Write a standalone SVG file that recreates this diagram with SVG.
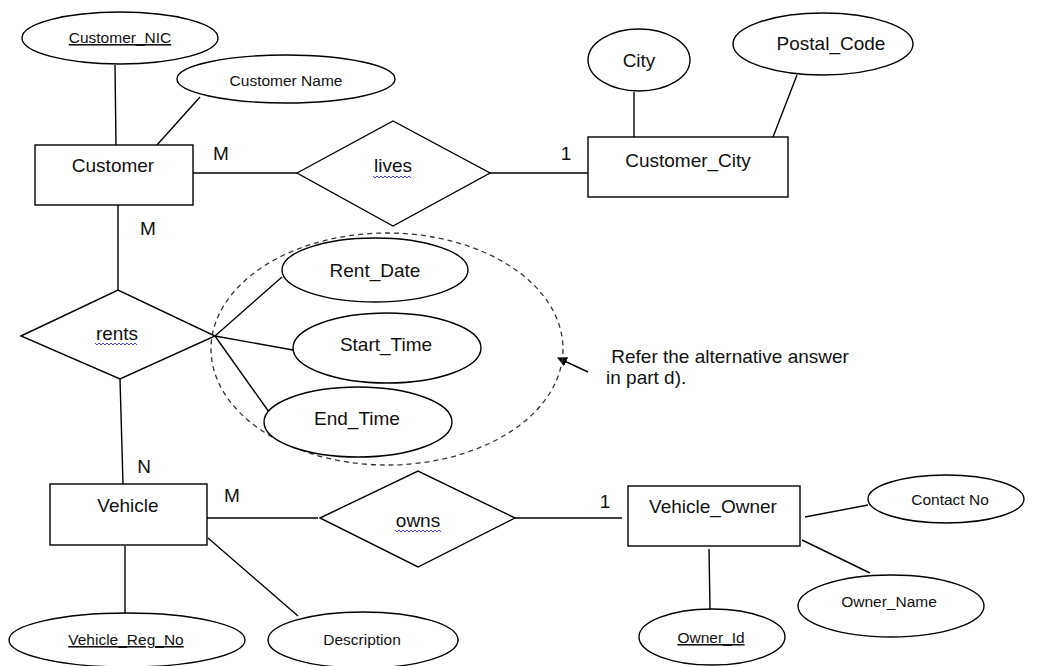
<svg xmlns="http://www.w3.org/2000/svg" width="1043" height="666" viewBox="0 0 1043 666">
<style>
.s{fill:#fff;stroke:#000;stroke-width:1.4}
.c{stroke:#000;stroke-width:1.4;fill:none}
.t{font-family:"Liberation Sans",Arial,sans-serif;font-size:19px;fill:#111;text-anchor:middle}
.a{font-family:"Liberation Sans",Arial,sans-serif;font-size:15.5px;fill:#111;text-anchor:middle}
.u{text-decoration:underline}
.w{stroke:#3b3bff;stroke-width:1;fill:none}
.n{font-family:"Liberation Sans",Arial,sans-serif;font-size:19px;fill:#111;white-space:pre}
</style>
<defs>
<marker id="ah" markerWidth="10" markerHeight="10" refX="9" refY="5" orient="auto" markerUnits="userSpaceOnUse">
<path d="M0,0 L10,5 L0,10 z" fill="#000"/>
</marker>
</defs>
<rect width="1043" height="666" fill="#fff"/>
<g id="connectors">
<line class="c" x1="115" y1="65" x2="116" y2="145"/>
<line class="c" x1="200" y1="97" x2="157" y2="145"/>
<line class="c" x1="190" y1="173" x2="297" y2="173"/>
<line class="c" x1="490" y1="173" x2="588" y2="173"/>
<line class="c" x1="634" y1="92" x2="634" y2="137"/>
<line class="c" x1="797" y1="75" x2="773" y2="137"/>
<line class="c" x1="118" y1="205" x2="118" y2="290"/>
<line class="c" x1="120" y1="379" x2="123" y2="484"/>
<line class="c" x1="215" y1="336" x2="282" y2="277"/>
<line class="c" x1="215" y1="336" x2="293" y2="350"/>
<line class="c" x1="215" y1="336" x2="269" y2="412"/>
<line class="c" x1="207" y1="518" x2="318" y2="518"/>
<line class="c" x1="515" y1="518" x2="622" y2="518"/>
<line class="c" x1="125" y1="546" x2="125" y2="613"/>
<line class="c" x1="208" y1="538" x2="298" y2="616"/>
<line class="c" x1="709" y1="549" x2="710" y2="609"/>
<line class="c" x1="805" y1="517" x2="868" y2="505"/>
<line class="c" x1="802" y1="540" x2="870" y2="573"/>
<line class="c" x1="588" y1="372" x2="558" y2="358" marker-end="url(#ah)"/>
<text class="t" x="221" y="160">M</text>
<text class="t" x="566" y="160">1</text>
<text class="t" x="148" y="235">M</text>
<text class="t" x="144" y="473">N</text>
<text class="t" x="232" y="502">M</text>
<text class="t" x="605" y="508">1</text>
</g>
<g id="group-rents-attrs">
<ellipse cx="387" cy="349" rx="176" ry="116" fill="none" stroke="#333" stroke-width="1.3" stroke-dasharray="5,4"/>
</g>
<g id="customer"><rect class="s" x="35" y="145" width="158" height="60"/><text class="t" x="113" y="172">Customer</text></g>
<g id="customer_nic"><ellipse class="s" cx="120" cy="38" rx="98" ry="26"/><text class="a u" x="120" y="43">Customer_NIC</text></g>
<g id="customer_name"><ellipse class="s" cx="286" cy="79" rx="109" ry="24"/><text class="a" x="286" y="86">Customer Name</text></g>
<g id="lives"><polygon class="s" points="297,173 393,121 490,173 393,226"/><text class="t" x="393" y="172">lives</text><path class="w" d="M373,176 l2,2 l2,-2 l2,2 l2,-2 l2,2 l2,-2 l2,2 l2,-2 l2,2 l2,-2 l2,2 l2,-2 l2,2 l2,-2 l2,2 l2,-2 l2,2 l2,-2 l2,2"/></g>
<g id="customer_city"><rect class="s" x="588" y="137" width="200" height="60"/><text class="t" x="688" y="167">Customer_City</text></g>
<g id="city"><ellipse class="s" cx="639" cy="60" rx="51" ry="31"/><text class="t" x="639" y="67">City</text></g>
<g id="postal_code"><ellipse class="s" cx="823" cy="44" rx="90" ry="31"/><text class="t" x="831" y="50">Postal_Code</text></g>
<g id="rents"><polygon class="s" points="21,336 118,290 215,336 120,379"/><text class="t" x="117" y="340">rents</text><path class="w" d="M95,343 l2,2 l2,-2 l2,2 l2,-2 l2,2 l2,-2 l2,2 l2,-2 l2,2 l2,-2 l2,2 l2,-2 l2,2 l2,-2 l2,2 l2,-2 l2,2 l2,-2 l2,2 l2,-2 l2,2"/></g>
<g id="rent_date"><ellipse class="s" cx="375" cy="270" rx="93" ry="32"/><text class="t" x="375" y="277">Rent_Date</text></g>
<g id="start_time"><ellipse class="s" cx="387" cy="348" rx="94" ry="35"/><text class="t" x="386" y="351">Start_Time</text></g>
<g id="end_time"><ellipse class="s" cx="358" cy="422" rx="94" ry="35"/><text class="t" x="357" y="425">End_Time</text></g>
<g id="note"><text class="n" x="606" y="363"> Refer the alternative answer</text><text class="n" x="606" y="384">in part d).</text></g>
<g id="vehicle"><rect class="s" x="50" y="484" width="157" height="61"/><text class="t" x="128" y="512">Vehicle</text></g>
<g id="owns"><polygon class="s" points="320,518 418,471 515,518 418,567"/><text class="t" x="418" y="527">owns</text><path class="w" d="M395,530 l2,2 l2,-2 l2,2 l2,-2 l2,2 l2,-2 l2,2 l2,-2 l2,2 l2,-2 l2,2 l2,-2 l2,2 l2,-2 l2,2 l2,-2 l2,2 l2,-2 l2,2 l2,-2 l2,2 l2,-2 l2,2"/></g>
<g id="vehicle_owner"><rect class="s" x="628" y="486" width="172" height="60"/><text class="t" x="713" y="513">Vehicle_Owner</text></g>
<g id="vehicle_reg_no"><ellipse class="s" cx="127" cy="640" rx="118" ry="27"/><text class="a u" x="126" y="645">Vehicle_Reg_No</text></g>
<g id="description"><ellipse class="s" cx="363" cy="640" rx="95" ry="28"/><text class="a" x="362" y="645">Description</text></g>
<g id="owner_id"><ellipse class="s" cx="712" cy="637" rx="73" ry="28"/><text class="a u" x="711" y="643">Owner_Id</text></g>
<g id="owner_name"><ellipse class="s" cx="891" cy="606" rx="93" ry="31"/><text class="a" x="889" y="607">Owner_Name</text></g>
<g id="contact_no"><ellipse class="s" cx="946" cy="499" rx="78" ry="24"/><text class="a" x="950" y="505">Contact No</text></g>
</svg>
